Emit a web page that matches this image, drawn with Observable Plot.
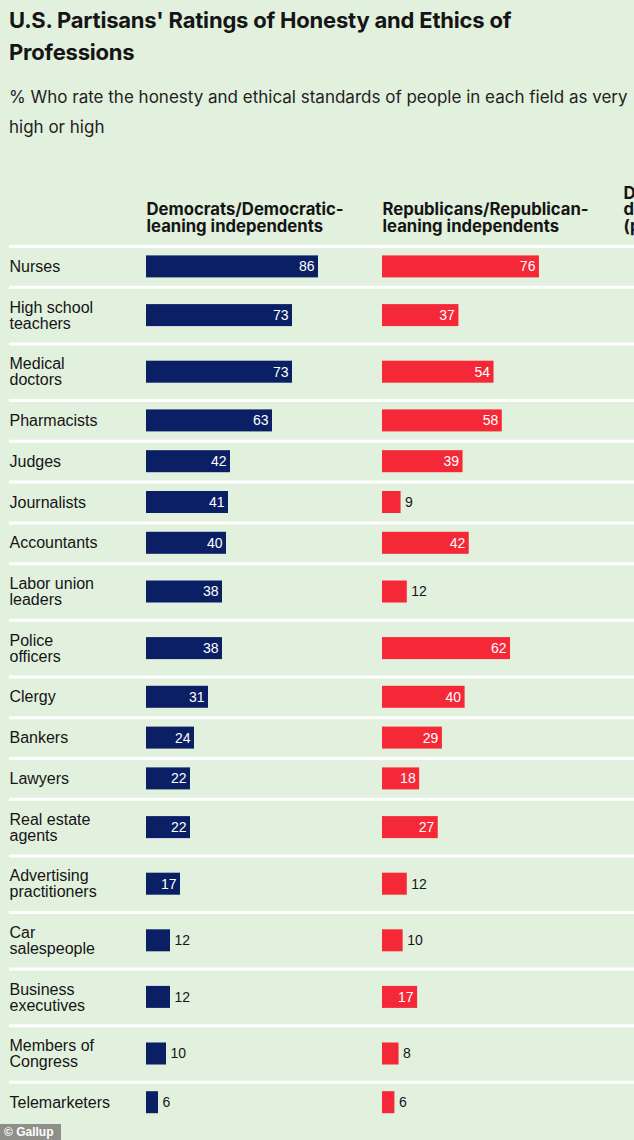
<!DOCTYPE html>
<html>
<head>
<meta charset="utf-8">
<script src="https://cdn.jsdelivr.net/npm/d3@7"></script>
<script src="https://cdn.jsdelivr.net/npm/@observablehq/plot@0.6"></script>
<style>
  html, body { margin: 0; padding: 0; background: #e2f0de; width: 634px; height: 1140px; overflow: hidden; }
  #wrap { position: relative; width: 634px; height: 1140px; overflow: hidden; }
  #title { position: absolute; left: 9px; top: 4px; font: 700 22px/32px Inter, sans-serif; color: #151515; white-space: nowrap; letter-spacing: -0.2px; }
  #subtitle { position: absolute; left: 9px; top: 82px; font: 400 17px/30px Inter, sans-serif; color: #222; white-space: nowrap; }
  .layer { position: absolute; top: 140px; width: 240px; height: 1000px; }
  .layer svg { max-width: none !important; }
  #base { width: 634px; }
  #credit { position: absolute; left: 0; top: 1124px; width: 61px; height: 16px; background: #8e8f8b; color: #fff;
            font: 700 12px/16px "Liberation Sans", Arial, sans-serif; padding-left: 4px; box-sizing: border-box; white-space: nowrap; }
</style>
</head>
<body>
<div id="wrap">
  <div id="title">U.S. Partisans' Ratings of Honesty and Ethics of<br>Professions</div>
  <div id="subtitle">% Who rate the honesty and ethical standards of people in each field as very<br>high or high</div>
  <div id="base" class="layer" style="left:0px"></div>
  <div id="dem" class="layer" style="left:146px"></div>
  <div id="rep" class="layer" style="left:382px"></div>
  <div id="diff" class="layer" style="left:623px"></div>
  <div id="credit">© Gallup</div>
</div>
<script>
// ---- data ----
const professions = [
  "Nurses",
  "High school\nteachers",
  "Medical\ndoctors",
  "Pharmacists",
  "Judges",
  "Journalists",
  "Accountants",
  "Labor union\nleaders",
  "Police\nofficers",
  "Clergy",
  "Bankers",
  "Lawyers",
  "Real estate\nagents",
  "Advertising\npractitioners",
  "Car\nsalespeople",
  "Business\nexecutives",
  "Members of\nCongress",
  "Telemarketers"
];
const democrats   = [86, 73, 73, 63, 42, 41, 40, 38, 38, 31, 24, 22, 22, 17, 12, 12, 10, 6];
const republicans = [76, 37, 54, 58, 39,  9, 42, 12, 62, 40, 29, 18, 27, 12, 10, 17,  8, 6];
const columnHeaders = [
  "Democrats/Democratic-\nleaning independents",
  "Republicans/Republican-\nleaning independents",
  "Difference\ndem. minus rep.\n(pct. pts.)"
];

// ---- layout ----
const PAGE_TOP = 140;
const SINGLE = 40.8, DOUBLE = 56.6, BAR_H = 22;
const rows = [];
let cursor = 246 - PAGE_TOP;
professions.forEach((label, i) => {
  const h = label.includes("\n") ? DOUBLE : SINGLE;
  const mid = cursor + h / 2;
  rows.push({label, dem: democrats[i], rep: republicans[i], top: cursor, mid, b0: mid - BAR_H / 2, b1: mid + BAR_H / 2});
  cursor += h;
});
const headerBaseline = rows[0].top - 15;
const H = 1000;
const labelFont = "'Liberation Sans', Arial, sans-serif";

const base = Plot.plot({
  width: 634, height: H,
  marginTop: 0, marginBottom: 0, marginLeft: 9, marginRight: 0,
  y: {type: "identity", axis: null},
  style: {background: "transparent", fontFamily: labelFont, overflow: "visible"},
  marks: [
    Plot.ruleY(rows, {y: "top", stroke: "#ffffff", strokeWidth: 3}),
    Plot.text(rows, {y: "mid", text: "label", frameAnchor: "left", textAnchor: "start",
      lineAnchor: "middle", lineHeight: 1, fontSize: 16, fill: "#151515"})
  ]
});
document.getElementById("base").append(base);

function column(key, color, header, pxPerPoint) {
  const marks = [
    Plot.text([header], {y: () => headerBaseline, text: d => d, frameAnchor: "left", textAnchor: "start",
      lineAnchor: "bottom", lineHeight: 0.97, fontFamily: "Inter, sans-serif", fontWeight: 700, fontSize: 16.7, fill: "#151515"})
  ];
  if (key) {
    const inside = rows.filter(d => d[key] * pxPerPoint > 30);
    const outside = rows.filter(d => d[key] * pxPerPoint <= 30);
    marks.push(
      Plot.rect(rows, {x1: () => 0, x2: key, y1: "b0", y2: "b1", fill: color}),
      Plot.text(inside, {x: key, y: "mid", text: d => String(d[key]), dx: -4, textAnchor: "end",
        fill: "#ffffff", fontSize: 14, fontFamily: labelFont}),
      Plot.text(outside, {x: key, y: "mid", text: d => String(d[key]), dx: 4, textAnchor: "start",
        fill: "#151515", fontSize: 14, fontFamily: labelFont})
    );
  }
  return Plot.plot({
    width: 240, height: H, margin: 0,
    x: {domain: [0, 100], range: [0, 100 * pxPerPoint], axis: null},
    y: {type: "identity", axis: null},
    style: {background: "transparent", fontFamily: labelFont, overflow: "visible"},
    marks
  });
}
document.getElementById("dem").append(column("dem", "#0b1f64", columnHeaders[0], 2.0));
document.getElementById("rep").append(column("rep", "#f42837", columnHeaders[1], 2.065));
document.getElementById("diff").append(column(null, null, columnHeaders[2], 2.0));
</script>
</body>
</html>
